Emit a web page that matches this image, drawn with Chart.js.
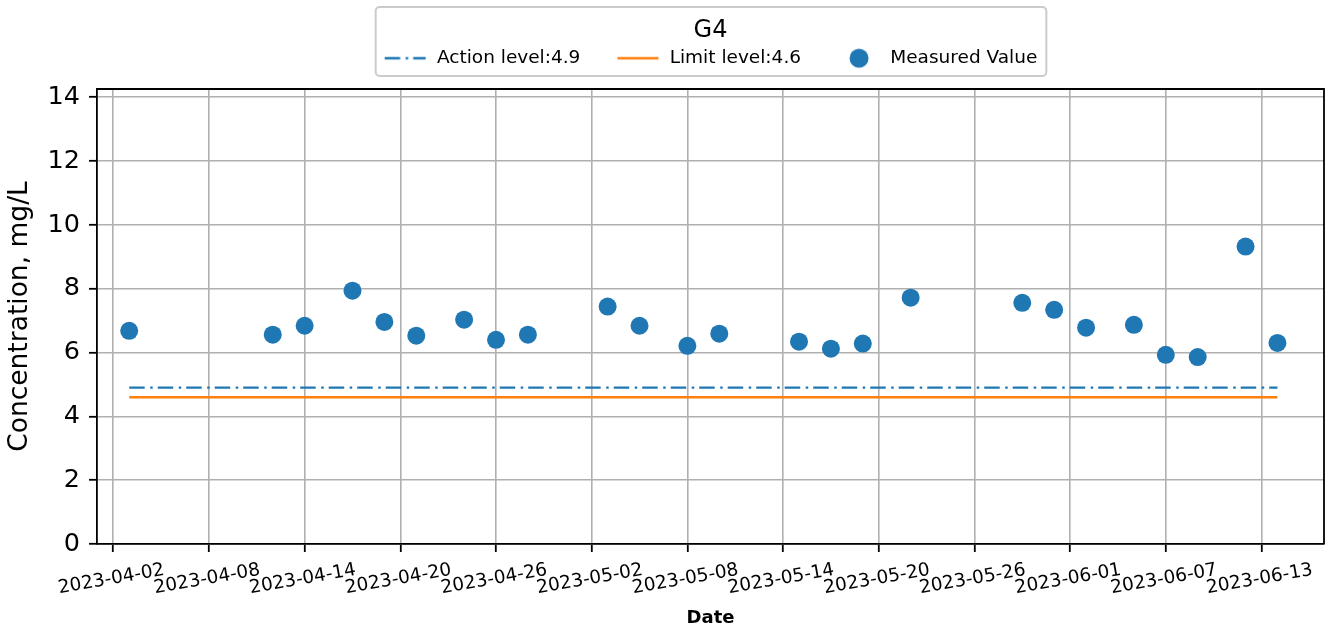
<!DOCTYPE html>
<html>
<head>
<meta charset="utf-8">
<script src="https://cdn.jsdelivr.net/npm/chart.js@4/dist/chart.umd.min.js"></script>
<style>
  html, body { margin: 0; padding: 0; background: #fff; }
  #wrap { width: 1333px; height: 629px; }
</style>
</head>
<body>
<div id="wrap"><canvas id="grafico" width="1333" height="629"></canvas></div>
<script>
// Amostras do ponto G4
const datas = ['2023-04-03', '2023-04-12', '2023-04-14', '2023-04-17', '2023-04-19', '2023-04-21',
    '2023-04-24', '2023-04-26', '2023-04-28', '2023-05-03', '2023-05-05', '2023-05-08', '2023-05-10',
    '2023-05-15', '2023-05-17', '2023-05-19', '2023-05-22', '2023-05-29', '2023-05-31', '2023-06-02',
    '2023-06-05', '2023-06-07', '2023-06-09', '2023-06-12', '2023-06-14'];
const valores = [6.68, 6.56, 6.84, 7.94, 6.96, 6.53, 7.03, 6.40, 6.56, 7.44, 6.84, 6.21, 6.59,
    6.34, 6.12, 6.28, 7.72, 7.56, 7.34, 6.78, 6.87, 5.93, 5.86, 9.32, 6.30];

const actionLevel = 4.9;
const limitLevel = 4.6;

const xTicks = ['2023-04-02', '2023-04-08', '2023-04-14', '2023-04-20', '2023-04-26', '2023-05-02',
    '2023-05-08', '2023-05-14', '2023-05-20', '2023-05-26', '2023-06-01', '2023-06-07', '2023-06-13'];
const yTicks = [0, 2, 4, 6, 8, 10, 12, 14];

const AZUL = '#1f77b4';
const LARANJA = '#ff7f0e';
const TRACO_PONTO = [15.5, 5.5, 2.5, 5];

// datas viram numero de dias (escala linear, sem adapter de tempo)
const dia = s => Date.UTC(+s.slice(0, 4), +s.slice(5, 7) - 1, +s.slice(8, 10)) / 86400000;
const fmtDia = v => new Date(v * 86400000).toISOString().slice(0, 10);

const pontos = datas.map((d, i) => ({ x: dia(d), y: valores[i] }));
const xIni = dia(datas[0]);
const xFim = dia(datas[datas.length - 1]);

Chart.defaults.font.family = "'DejaVu Sans', sans-serif";
Chart.defaults.color = '#000';

// icones da legenda desenhados em canvas pequenos
function iconeLinha(cor, dash) {
    const c = document.createElement('canvas');
    c.width = 44; c.height = 20;
    const g = c.getContext('2d');
    g.strokeStyle = cor;
    g.lineWidth = 2.4;
    g.setLineDash(dash);
    g.beginPath();
    g.moveTo(1, 10);
    g.lineTo(42, 10);
    g.stroke();
    return c;
}
function iconeCirculo(cor) {
    const c = document.createElement('canvas');
    c.width = 44; c.height = 22;
    const g = c.getContext('2d');
    g.fillStyle = cor;
    g.beginPath();
    g.arc(22, 11, 9.5, 0, Math.PI * 2);
    g.fill();
    return c;
}
const icones = [iconeLinha(AZUL, TRACO_PONTO), iconeLinha(LARANJA, []), iconeCirculo(AZUL)];

// moldura da legenda + eixos de cima e da direita
const molduras = {
    id: 'molduras',
    afterInit(chart) {
        const lg = chart.legend;
        if (!lg) return;
        const fitOrig = lg.fit.bind(lg);
        lg.fit = function () {
            fitOrig();
            this.height += 11.5;
        };
    },
    afterDraw(chart) {
        const ctx = chart.ctx;
        const lg = chart.legend;
        const a = chart.chartArea;
        ctx.save();
        if (lg && lg.legendHitBoxes.length) {
            const hb = lg.legendHitBoxes;
            const x0 = hb[0].left - 8;
            const x1 = hb[hb.length - 1].left + hb[hb.length - 1].width + 9;
            const y0 = lg.top + 2;
            const y1 = lg.top + 71;
            ctx.strokeStyle = 'rgba(200,200,200,0.95)';
            ctx.lineWidth = 2;
            ctx.beginPath();
            ctx.roundRect(x0, y0, x1 - x0, y1 - y0, 4);
            ctx.stroke();
        }
        ctx.strokeStyle = '#000';
        ctx.lineWidth = 1.8;
        ctx.beginPath();
        ctx.moveTo(a.left, a.top);
        ctx.lineTo(a.right, a.top);
        ctx.lineTo(a.right, a.bottom);
        ctx.stroke();
        ctx.restore();
    }
};

const ctx = document.getElementById('grafico').getContext('2d');

new Chart(ctx, {
    type: 'scatter',
    data: {
        datasets: [
            {
                label: 'Action level:' + actionLevel,
                data: [{ x: xIni, y: actionLevel }, { x: xFim, y: actionLevel }],
                showLine: true,
                borderColor: AZUL,
                borderWidth: 2.4,
                borderDash: TRACO_PONTO,
                pointRadius: 0,
                pointStyle: icones[0]
            },
            {
                label: 'Limit level:' + limitLevel,
                data: [{ x: xIni, y: limitLevel }, { x: xFim, y: limitLevel }],
                showLine: true,
                borderColor: LARANJA,
                borderWidth: 2.4,
                pointRadius: 0,
                pointStyle: icones[1]
            },
            {
                label: 'Measured Value',
                data: pontos,
                backgroundColor: AZUL,
                borderColor: AZUL,
                borderWidth: 0,
                pointRadius: 9,
                pointHoverRadius: 9,
                pointStyle: 'circle'
            }
        ]
    },
    options: {
        responsive: false,
        animation: false,
        layout: { padding: { top: 5, left: 0, right: 5, bottom: 0 } },
        plugins: {
            tooltip: { enabled: false },
            legend: {
                position: 'top',
                fullSize: false,
                title: {
                    display: true,
                    text: 'G4',
                    font: { size: 24 },
                    padding: { top: 13.5, bottom: -34.3 }
                },
                labels: {
                    usePointStyle: true,
                    pointStyleWidth: 44,
                    padding: 36,
                    font: { size: 18.5 },
                    generateLabels: chart => chart.data.datasets.map((ds, i) => ({
                        text: ds.label,
                        pointStyle: icones[i],
                        fillStyle: 'transparent',
                        strokeStyle: 'transparent',
                        lineWidth: 0,
                        datasetIndex: i
                    }))
                }
            }
        },
        scales: {
            x: {
                type: 'linear',
                min: dia('2023-04-01') - 0.02,
                max: dia('2023-06-16') + 0.92,
                afterFit: s => {
                    s.height = 85;
                    s.paddingLeft = 0;
                    s.paddingRight = 0;
                },
                afterBuildTicks: s => { s.ticks = xTicks.map(t => ({ value: dia(t) })); },
                grid: { color: '#b0b0b0', lineWidth: 1.6, tickColor: '#000', tickWidth: 1.8, tickLength: 8 },
                border: { display: true, color: '#000', width: 1.8 },
                ticks: {
                    callback: v => fmtDia(v),
                    font: { size: 18.5 },
                    minRotation: 10,
                    maxRotation: 10,
                    autoSkip: false,
                    labelOffset: 51,
                    padding: 7
                },
                title: {
                    display: true,
                    text: 'Date',
                    font: { size: 18, weight: 'bold' },
                    padding: { top: 0, bottom: 0 }
                }
            },
            y: {
                min: 0,
                max: 14.26,
                afterFit: s => { s.width = 97; },
                afterBuildTicks: s => { s.ticks = yTicks.map(v => ({ value: v })); },
                grid: { color: '#b0b0b0', lineWidth: 1.6, tickColor: '#000', tickWidth: 1.8, tickLength: 8 },
                border: { display: true, color: '#000', width: 1.8 },
                ticks: { font: { size: 25.5 }, padding: 9 },
                title: {
                    display: true,
                    text: 'Concentration, mg/L',
                    font: { size: 26.5 },
                    padding: { top: 4, bottom: 0 }
                }
            }
        }
    },
    plugins: [molduras]
});
</script>
</body>
</html>
